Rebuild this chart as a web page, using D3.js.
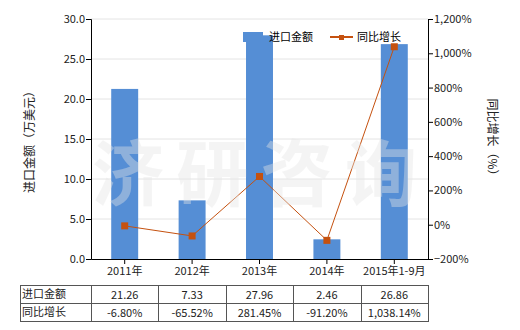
<!DOCTYPE html>
<html><head><meta charset="utf-8">
<script src="https://cdn.jsdelivr.net/npm/d3@7"></script>
<style>body{margin:0;background:#fff}svg{display:block}text{font-family:"Noto Sans CJK SC","Noto Sans",sans-serif}</style>
</head><body><svg id="c" width="520" height="330"></svg>
<script>
const categories = ["2011年","2012年","2013年","2014年","2015年1-9月"];
const importValues = [21.26, 7.33, 27.96, 2.46, 26.86];
const growthValues = [-6.80, -65.52, 281.45, -91.20, 1038.14];
const importLabels = ["21.26","7.33","27.96","2.46","26.86"];
const growthLabels = ["-6.80%","-65.52%","281.45%","-91.20%","1,038.14%"];
const leftTicks = [0,5,10,15,20,25,30];
const rightTicks = [-200,0,200,400,600,800,1000,1200];
const seriesNames = ["进口金额","同比增长"];
const watermarkChars = ["济","研","咨","询"];

const svg = d3.select("#c");
const L = 91, R = 428, T = 19, B = 259;
const barColor = "#558ed5", lineColor = "#c5510f", textColor = "#222";

const x = d3.scaleBand().domain(categories).range([L, R]);
const yL = d3.scaleLinear().domain([0, 30]).range([B, T]);
const yR = d3.scaleLinear().domain([-200, 1200]).range([B, T]);

// grid
svg.append("g").selectAll("line").data(leftTicks.filter(d => d > 0)).join("line")
  .attr("x1", L).attr("x2", R).attr("y1", d => yL(d)).attr("y2", d => yL(d))
  .attr("stroke", "#e4e4e4").attr("stroke-width", 1);

// bars
const bw = x.bandwidth() * 0.4;
svg.append("g").selectAll("rect").data(importValues).join("rect")
  .attr("x", (d, i) => x(categories[i]) + (x.bandwidth() - bw) / 2)
  .attr("y", d => yL(d)).attr("width", bw).attr("height", d => B - yL(d))
  .attr("fill", barColor);

// line
const cx = (d, i) => x(categories[i]) + x.bandwidth() / 2;
svg.append("path").datum(growthValues)
  .attr("d", d3.line().x(cx).y(d => yR(d)))
  .attr("fill", "none").attr("stroke", lineColor).attr("stroke-width", 1);
svg.append("g").selectAll("rect").data(growthValues).join("rect")
  .attr("x", (d, i) => cx(d, i) - 3.5).attr("y", d => yR(d) - 3.5)
  .attr("width", 7).attr("height", 7).attr("fill", lineColor);

// watermark
const wmX = d3.scalePoint().domain(watermarkChars).range([128, 381]);
svg.append("g").selectAll("text").data(watermarkChars).join("text")
  .attr("x", d => wmX(d)).attr("y", 200).attr("text-anchor", "middle")
  .attr("font-size", 72).attr("font-weight", "bold")
  .attr("fill", "#e6e6e6").attr("opacity", 0.4).text(d => d);

// axes
const axL = svg.append("g").attr("transform", `translate(${L},0)`)
  .call(d3.axisLeft(yL).tickValues(leftTicks).tickFormat(d3.format(".1f")).tickSizeOuter(0).tickSize(5));
const axR = svg.append("g").attr("transform", `translate(${R},0)`)
  .call(d3.axisRight(yR).tickValues(rightTicks).tickFormat(d => d3.format(",")(d) + "%").tickSizeOuter(0).tickSize(5));
const axB = svg.append("g").attr("transform", `translate(0,${B})`)
  .call(d3.axisBottom(x).tickSize(5).tickSizeOuter(0));
[axL, axR, axB].forEach(a => {
  a.select(".domain").attr("stroke", "#000");
  a.selectAll(".tick line").attr("stroke", "#000");
  a.selectAll("text").attr("font-size", 11).attr("fill", textColor)
    .style("font-family", '"Noto Sans CJK SC","Noto Sans",sans-serif');
});
axL.selectAll("text").attr("x", -6);
axR.selectAll("text").attr("x", 6);
axB.selectAll("text").attr("y", 8);

// axis titles
svg.append("text").attr("transform", "translate(34,139) rotate(-90)").attr("text-anchor", "middle")
  .attr("font-size", 12).attr("fill", textColor).text("进口金额（万美元）");
svg.append("text").attr("transform", "translate(488,140) rotate(90)").attr("text-anchor", "middle")
  .attr("font-size", 12).attr("fill", textColor).text("同比增长（%）");

// legend
svg.append("rect").attr("x", 243).attr("y", 32).attr("width", 20).attr("height", 10).attr("fill", barColor);
svg.append("text").attr("x", 269).attr("y", 41).attr("font-size", 11).attr("fill", "#000").text(seriesNames[0]);
svg.append("line").attr("x1", 330).attr("x2", 353).attr("y1", 37).attr("y2", 37).attr("stroke", lineColor).attr("stroke-width", 2);
svg.append("rect").attr("x", 339).attr("y", 35).attr("width", 5).attr("height", 5).attr("fill", lineColor);
svg.append("text").attr("x", 357).attr("y", 41).attr("font-size", 11).attr("fill", "#000").text(seriesNames[1]);

// table
const tT = 285, rowH = 18, tL = 20;
const colEdges = [tL, L].concat(categories.map(c => x(c) + x.bandwidth()));
const tg = svg.append("g");
const rows = [importLabels, growthLabels];
rows.forEach((row, r) => {
  const y0 = tT + r * rowH;
  tg.append("text").attr("x", tL + 2).attr("y", y0 + 13).attr("font-size", 11).attr("fill", textColor).text(seriesNames[r]);
  row.forEach((v, i) => {
    tg.append("text").attr("x", x(categories[i]) + x.bandwidth() / 2).attr("y", y0 + 14)
      .attr("text-anchor", "middle").attr("font-size", 11).attr("fill", textColor).text(v);
  });
});
for (let r = 0; r <= 2; r++) {
  tg.append("line").attr("x1", tL).attr("x2", R).attr("y1", tT + r * rowH + 0.5).attr("y2", tT + r * rowH + 0.5)
    .attr("stroke", "#555");
}
colEdges.forEach(e => {
  tg.append("line").attr("x1", Math.round(e) + 0.5).attr("x2", Math.round(e) + 0.5).attr("y1", tT).attr("y2", tT + 2 * rowH + 1)
    .attr("stroke", "#555");
});
</script></body></html>
